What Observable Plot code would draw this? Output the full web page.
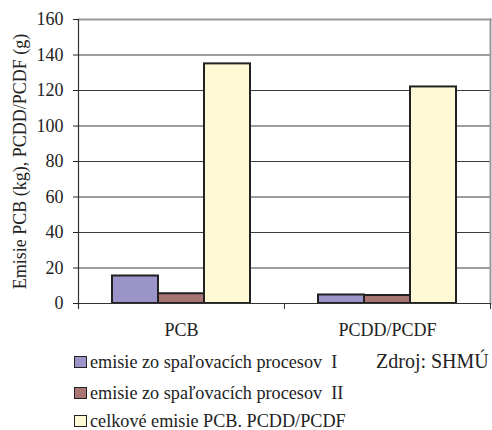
<!DOCTYPE html>
<html>
<head>
<meta charset="utf-8">
<script src="https://cdn.jsdelivr.net/npm/d3@7"></script>
<script src="https://cdn.jsdelivr.net/npm/@observablehq/plot@0.6"></script>
<style>
  html, body { margin: 0; padding: 0; background: #fff; }
  #wrap { position: relative; width: 492px; height: 430px; overflow: hidden; font-family: 'Liberation Serif'; color: #222; }
  #chart svg { display: block; }
  #chart svg text { font-family: 'Liberation Serif'; }
  .leg { position: absolute; left: 74px; display: flex; align-items: center; font-size: 18.2px; white-space: pre; line-height: 20px; font-family: 'Liberation Serif'; }
  .sw { width: 11px; height: 10px; border: 1.5px solid #222; margin-right: 3px; }
  #src { position: absolute; left: 376px; top: 349px; font-size: 20px; line-height: 24px; white-space: pre; font-family: 'Liberation Serif'; }
</style>
</head>
<body>
<div id="wrap">
  <div id="chart"></div>
  <div id="legend"></div>
  <div id="src"></div>
</div>
<script>
const categories = ["PCB", "PCDD/PCDF"];
const seriesNames = [
  "emisie zo spaľovacích procesov  I",
  "emisie zo spaľovacích procesov  II",
  "celkové emisie PCB. PCDD/PCDF"
];
const valuesI = [15.5, 4.8];
const valuesII = [5.5, 4.5];
const valuesTotal = [135, 122];
const yTicks = [0, 20, 40, 60, 80, 100, 120, 140, 160];
const colors = ["#9b94c8", "#a87474", "#fff9d6"];
const yLabel = "Emisie PCB (kg), PCDD/PCDF (g)";
const sourceText = "Zdroj: SHMÚ";

const FONT = "Liberation Serif";

const seriesValues = [valuesI, valuesII, valuesTotal];
const data = categories.flatMap((c, i) =>
  seriesNames.map((s, j) => ({category: c, series: s, value: seriesValues[j][i]}))
);

const chart = Plot.plot({
  width: 492,
  height: 345,
  marginLeft: 77,
  marginRight: 2,
  marginTop: 19,
  marginBottom: 42,
  style: {fontFamily: FONT, fontSize: "18px", background: "white", color: "#222"},
  fx: {domain: categories, padding: 0, label: null},
  x: {domain: seriesNames, paddingInner: 0, paddingOuter: 0.735, axis: null},
  y: {domain: [0, 160]},
  color: {domain: seriesNames, range: colors},
  marks: [
    Plot.ruleY(yTicks.filter(d => d > 0 && d < 160), {stroke: "#3a3a3a", strokeWidth: 1}),
    Plot.frame({facet: "super", anchor: "top", stroke: "#999", strokeWidth: 2}),
    Plot.frame({facet: "super", anchor: "right", stroke: "#999", strokeWidth: 2}),
    Plot.frame({facet: "super", anchor: "right", stroke: "#333", strokeWidth: 1, insetTop: 284, insetBottom: -5}),
    Plot.frame({anchor: "left", stroke: "#333", strokeWidth: 1, insetTop: 284, insetBottom: -5}),
    Plot.frame({facet: "super", anchor: "left", stroke: "#333", strokeWidth: 1.2, insetBottom: -5}),
    Plot.barY(data, {fx: "category", x: "series", y: "value", fill: "series", stroke: "#222", strokeWidth: 2}),
    Plot.ruleY([0], {stroke: "#333", strokeWidth: 1.2}),
    Plot.axisY({
      ticks: yTicks, tickSize: 5, tickPadding: 10, fontSize: 18, fontFamily: FONT,
      label: yLabel, labelAnchor: "center", labelOffset: 65, labelArrow: "none"
    }),
    Plot.axisFx({anchor: "bottom", tickSize: 0, tickPadding: 20, fontSize: 18, fontFamily: FONT, label: null})
  ]
});
document.getElementById("chart").appendChild(chart);

const legend = document.getElementById("legend");
const rowTops = [352, 383, 411];
seriesNames.forEach((s, i) => {
  const row = document.createElement("div");
  row.className = "leg";
  row.style.top = rowTops[i] + "px";
  const sw = document.createElement("span");
  sw.className = "sw";
  sw.style.background = colors[i];
  const t = document.createElement("span");
  t.textContent = s;
  row.appendChild(sw);
  row.appendChild(t);
  legend.appendChild(row);
});
document.getElementById("src").textContent = sourceText;
</script>
</body>
</html>
